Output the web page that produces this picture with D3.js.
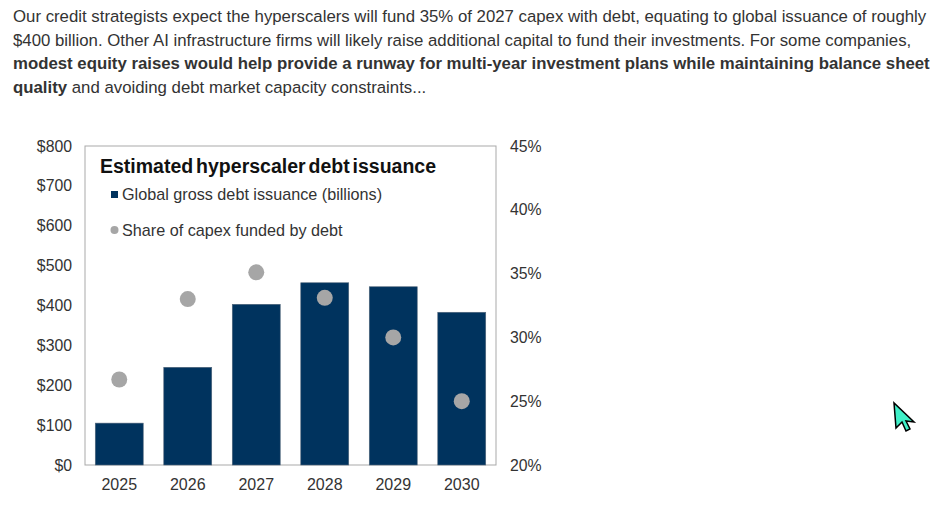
<!DOCTYPE html>
<html>
<head>
<meta charset="utf-8">
<script src="https://cdn.jsdelivr.net/npm/d3@7"></script>
<style>
  html, body { margin: 0; padding: 0; background: #fff; }
  svg { display: block; font-family: "Liberation Sans", Arial, sans-serif; }
</style>
</head>
<body>
<svg id="chart" width="938" height="509"></svg>
<script>
// chart data
const years = ["2025", "2026", "2027", "2028", "2029", "2030"];
const issuance = [105, 245, 403, 457, 447, 383];   // $ billions
const shareDebt = [26.7, 33.0, 35.1, 33.1, 30.0, 25.0]; // % of capex
const leftTicks = [0, 100, 200, 300, 400, 500, 600, 700, 800];
const rightTicks = [20, 25, 30, 35, 40, 45];

// paragraph above the chart, [text, bold]
const paragraph = [
  [["Our credit strategists expect the hyperscalers will fund 35% of 2027 capex with debt, equating to global issuance of roughly", false]],
  [["$400 billion. Other AI infrastructure firms will likely raise additional capital to fund their investments. For some companies,", false]],
  [["modest equity raises would help provide a runway for multi-year investment plans while maintaining balance sheet", true]],
  [["quality", true], [" and avoiding debt market capacity constraints...", false]]
];

const navy = "#00335e", grey = "#a6a6a6", ink = "#333";

const svg = d3.select("#chart");

// text block
const para = svg.append("g").attr("fill", ink).style("font-size", "16.8px");
paragraph.forEach((line, i) => {
  const t = para.append("text").attr("x", 13).attr("y", 22 + i * 23.5);
  line.forEach(([s, b]) => t.append("tspan").attr("font-weight", b ? "bold" : null).text(s));
});

// plot area
const x0 = 85, x1 = 496, y0 = 465, y1 = 146;

const x = d3.scaleBand().domain(years).range([x0, x1]).paddingInner(0.3).paddingOuter(0.15);
const yL = d3.scaleLinear().domain([0, 800]).range([y0, y1]);
const yR = d3.scaleLinear().domain([20, 45]).range([y0, y1]);

svg.append("rect")
  .attr("x", x0).attr("y", y1).attr("width", x1 - x0).attr("height", y0 - y1)
  .attr("fill", "none").attr("stroke", "#a9a9a9").attr("stroke-width", 1);

svg.append("g").selectAll("rect")
  .data(issuance)
  .join("rect")
    .attr("x", (d, i) => x(years[i]))
    .attr("y", d => yL(d))
    .attr("width", x.bandwidth())
    .attr("height", d => y0 - yL(d))
    .attr("fill", navy)
    .attr("stroke", "#50657a").attr("stroke-width", 0.6);

svg.append("g").selectAll("circle")
  .data(shareDebt)
  .join("circle")
    .attr("cx", (d, i) => x(years[i]) + x.bandwidth() / 2)
    .attr("cy", d => yR(d))
    .attr("r", 8)
    .attr("fill", grey);

// axes
const axisL = svg.append("g").attr("transform", `translate(${x0},0)`)
  .call(d3.axisLeft(yL).tickValues(leftTicks).tickFormat(d => "$" + d).tickSize(0).tickPadding(13));
const axisR = svg.append("g").attr("transform", `translate(${x1},0)`)
  .call(d3.axisRight(yR).tickValues(rightTicks).tickFormat(d => d + "%").tickSize(0).tickPadding(14));
const axisB = svg.append("g").attr("transform", `translate(0,${y0})`)
  .call(d3.axisBottom(x).tickSize(0).tickPadding(14));

[axisL, axisR, axisB].forEach(a => {
  a.select(".domain").remove();
  a.selectAll("text").attr("fill", ink).style("font-size", "15.8px")
    .style("font-family", "'Liberation Sans', Arial, sans-serif");
});
axisB.selectAll("text").style("font-size", "16px");

// title and legend
svg.append("text")
  .attr("x", 100).attr("y", 173)
  .attr("font-weight", "bold").attr("fill", "#111")
  .style("font-size", "19.5px").style("word-spacing", "-2.5px")
  .text("Estimated hyperscaler debt issuance");

svg.append("rect").attr("x", 111).attr("y", 191).attr("width", 7).attr("height", 7).attr("fill", navy);
svg.append("text").attr("x", 122).attr("y", 199.5).attr("fill", ink).style("font-size", "16.2px")
  .text("Global gross debt issuance (billions)");

svg.append("circle").attr("cx", 114.5).attr("cy", 230).attr("r", 4).attr("fill", grey);
svg.append("text").attr("x", 122).attr("y", 235.5).attr("fill", ink).style("font-size", "16.2px")
  .text("Share of capex funded by debt");

// mouse pointer visible in the screenshot
svg.append("path")
  .attr("transform", "translate(894,403)")
  .attr("d", "M0,0 L2,25 L8,19 L12,28 L16,26 L12,18 L20,19 Z")
  .attr("fill", "#3ff0c8").attr("stroke", "#000").attr("stroke-width", 1.5)
  .attr("stroke-linejoin", "miter");
</script>
</body>
</html>
